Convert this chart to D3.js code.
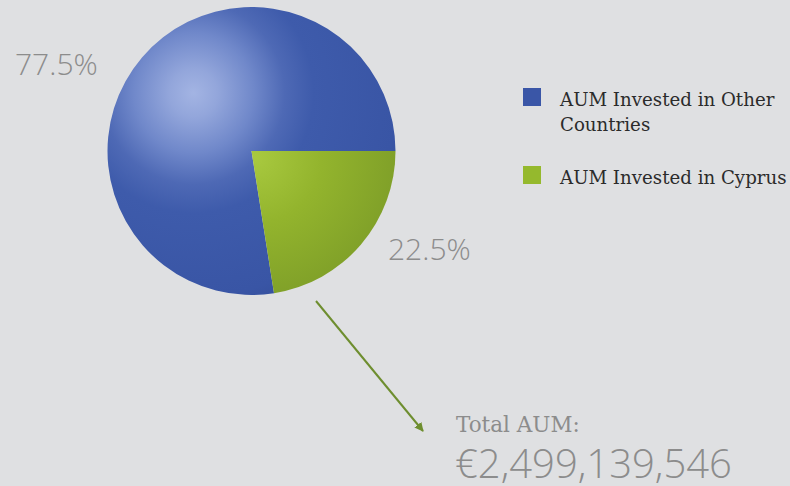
<!DOCTYPE html>
<html>
<head>
<meta charset="utf-8">
<script src="https://cdn.jsdelivr.net/npm/d3@7"></script>
<style>
  body { margin: 0; background: #dfe0e2; }
  svg { display: block; }
</style>
</head>
<body>
<div class="chart"></div>
<script>
// data
var labels = ["AUM Invested in Other Countries", "AUM Invested in Cyprus"];
var legendLines = [["AUM Invested in Other", "Countries"], ["AUM Invested in Cyprus"]];
var values = [77.5, 22.5];
var pctLabels = ["77.5%", "22.5%"];
var totalLabel = "Total AUM:";
var totalValue = 2499139546;

var svgWidth = 790;
var svgHeight = 486;
var cx = 251.5, cy = 151, radius = 144;

var svg = d3.select(".chart")
  .append("svg")
  .attr("width", svgWidth)
  .attr("height", svgHeight);

svg.append("rect")
  .attr("width", svgWidth)
  .attr("height", svgHeight)
  .attr("fill", "#dfe0e2");

var defs = svg.append("defs");

// shiny blue
var gBlue = defs.append("radialGradient")
  .attr("id", "gBlue")
  .attr("gradientUnits", "userSpaceOnUse")
  .attr("cx", -58).attr("cy", -58).attr("r", 240);
[[0, "#a3b4e3"], [0.1, "#93a6db"], [0.25, "#7088ca"], [0.38, "#4e69b5"], [0.5, "#3e5bab"], [0.85, "#3955a5"], [1, "#324b93"]]
  .forEach(function(s) { gBlue.append("stop").attr("offset", s[0]).attr("stop-color", s[1]); });

// green slice
var gGreen = defs.append("radialGradient")
  .attr("id", "gGreen")
  .attr("gradientUnits", "userSpaceOnUse")
  .attr("cx", 4).attr("cy", 6).attr("r", 165);
[[0, "#a8c93f"], [0.4, "#93b42d"], [1, "#7a9a27"]]
  .forEach(function(s) { gGreen.append("stop").attr("offset", s[0]).attr("stop-color", s[1]); });

var fills = ["url(#gBlue)", "url(#gGreen)"];
var legendColors = ["#3a56a7", "#95b92d"];

// arrow marker
defs.append("marker")
  .attr("id", "arrow")
  .attr("viewBox", "0 0 10 10")
  .attr("refX", 9).attr("refY", 5)
  .attr("markerWidth", 9).attr("markerHeight", 9)
  .attr("markerUnits", "userSpaceOnUse")
  .attr("orient", "auto")
  .append("path")
  .attr("d", "M0,0 L10,5 L0,10 Z")
  .attr("fill", "#6e8e2f");

// pie: cyprus slice starts at 3 o'clock going clockwise
var total = d3.sum(values);
var start = Math.PI / 2 - 2 * Math.PI * values[0] / total;
var pie = d3.pie().sort(null)
  .startAngle(start)
  .endAngle(start + 2 * Math.PI);
var arc = d3.arc().innerRadius(0).outerRadius(radius);

var pieGroup = svg.append("g")
  .attr("transform", `translate(${cx}, ${cy})`);

pieGroup.selectAll("path")
  .data(pie(values))
  .enter()
  .append("path")
  .attr("d", arc)
  .attr("fill", (d, i) => fills[i]);

// percent labels
var pctPos = [[15, 75], [388, 260]];
svg.selectAll("text.pct")
  .data(pctLabels)
  .enter()
  .append("text")
  .attr("class", "pct")
  .attr("x", (d, i) => pctPos[i][0])
  .attr("y", (d, i) => pctPos[i][1])
  .attr("fill", "#8c8c8c")
  .style("font-family", "'Open Sans', Lato, sans-serif")
  .style("font-weight", 300)
  .style("font-size", "30px")
  .text(d => d);

// legend
var legend = svg.append("g");
var legendY = [88, 166];
legendLines.forEach(function(lines, i) {
  legend.append("rect")
    .attr("x", 523)
    .attr("y", legendY[i])
    .attr("width", 18)
    .attr("height", 18)
    .attr("fill", legendColors[i]);
  lines.forEach(function(line, j) {
    legend.append("text")
      .attr("x", 560)
      .attr("y", legendY[i] + 18 + j * 25)
      .attr("fill", "#2b2b2b")
      .style("font-family", "'DejaVu Serif', serif")
      .style("font-size", "18.2px")
      .text(line);
  });
});

// arrow to total
svg.append("line")
  .attr("x1", 316).attr("y1", 301)
  .attr("x2", 423).attr("y2", 431)
  .attr("stroke", "#6e8e2f")
  .attr("stroke-width", 2)
  .attr("marker-end", "url(#arrow)");

svg.append("text")
  .attr("x", 456)
  .attr("y", 432)
  .attr("fill", "#8c8c8c")
  .style("font-family", "'DejaVu Serif', serif")
  .style("font-weight", 300)
  .style("font-size", "21.5px")
  .text(totalLabel);

svg.append("text")
  .attr("x", 455)
  .attr("y", 478)
  .attr("fill", "#8c8c8c")
  .style("font-family", "'Open Sans', Lato, sans-serif")
  .style("font-weight", 300)
  .style("font-size", "40px")
  .text("€" + d3.format(",")(totalValue));
</script>
</body>
</html>
